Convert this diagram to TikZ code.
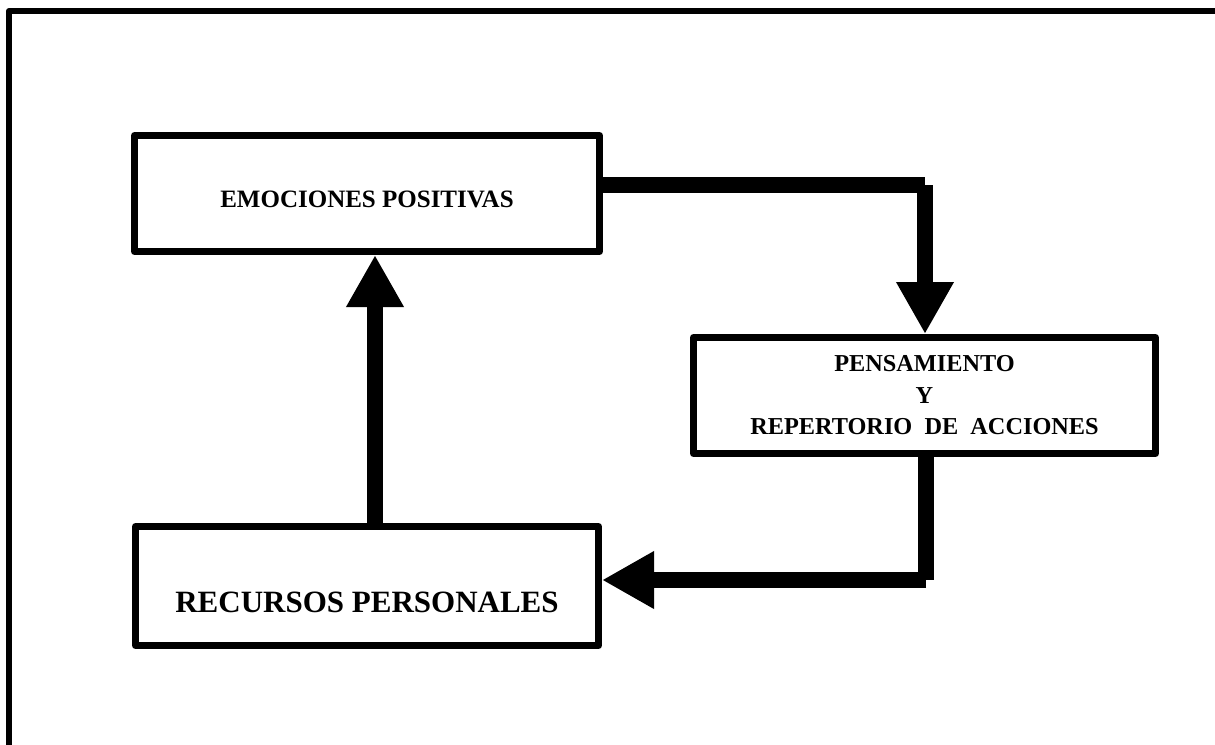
\documentclass[tikz,border=0pt]{standalone}
\usepackage{fontspec}
\setmainfont{Liberation Serif}
\usepackage{tikz}
\usetikzlibrary{arrows.meta}

\tikzset{
  caja/.style={draw,line width=7pt,line join=round,minimum width=465pt,
               minimum height=116pt,align=center},
  flecha/.style={line width=16pt,line cap=butt},
  punta/.style={-{Triangle[length=52pt,width=54pt]}}
}

\begin{document}
\begin{tikzpicture}[x=1pt,y=-1pt]
  \useasboundingbox (0,0) rectangle (1215,744);
  % Outer frame
  \draw[line width=6pt,line join=round] (9,11) rectangle (1240,770);
  % Boxes
  \node[caja,font=\bfseries\fontsize{25}{30}\selectfont,text height=28pt,text depth=0pt]
    (emo) at (367,193.5) {EMOCIONES POSITIVAS};
  \node[caja,minimum width=462pt,font=\bfseries\fontsize{24.3}{31.5}\selectfont]
    (pens) at (924.5,395.5) {PENSAMIENTO\\Y\\REPERTORIO\ \ DE\ \ ACCIONES};
  \node[caja,minimum width=463pt,minimum height=119pt,
        font=\bfseries\fontsize{31}{36}\selectfont,text height=52pt,text depth=0pt]
    (rec) at (367,586) {RECURSOS PERSONALES};
  % Corner points
  \coordinate (c1) at (925,185);
  \coordinate (c2) at (926,580);
  % Arrows
  \draw[flecha,punta] ([xshift=8pt]rec.north) -- ([xshift=8pt]emo.south);
  \draw[flecha] (emo.east |- c1) -- (c1);
  \draw[flecha,punta] (c1) -- (pens.north -| c1);
  \draw[flecha] (pens.south -| c2) -- (c2);
  \draw[flecha,punta] (c2) -- (rec.east |- c2);
\end{tikzpicture}
\end{document}
